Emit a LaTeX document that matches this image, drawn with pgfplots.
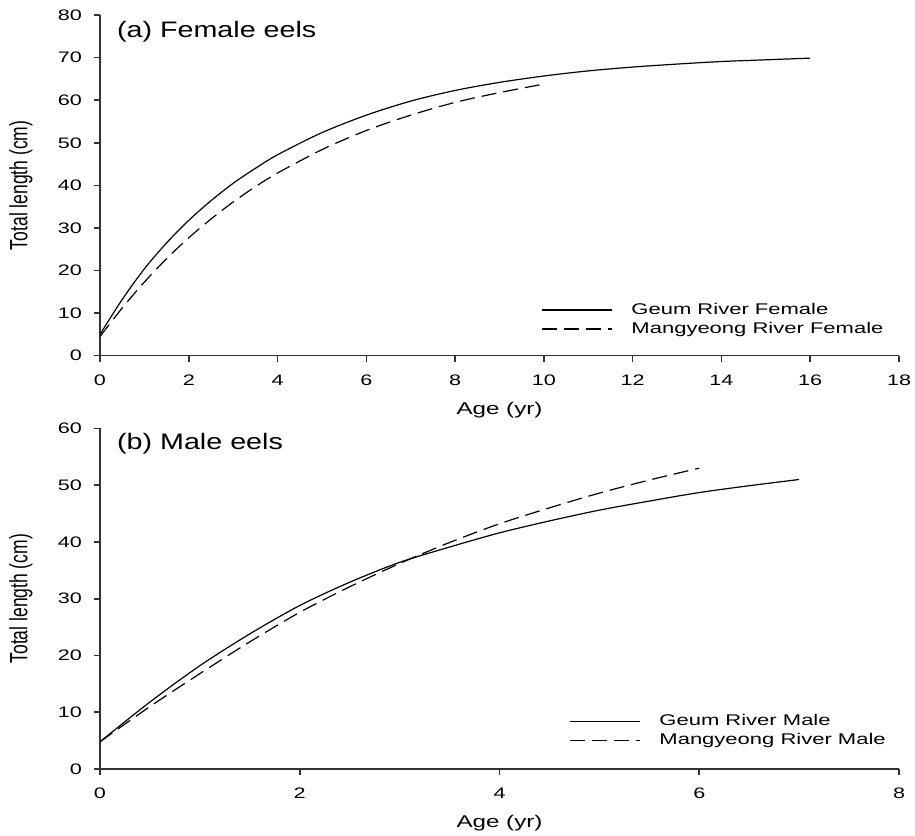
\documentclass[border=0pt]{standalone}
\usepackage{pgfplots}
\pgfplotsset{compat=1.18}
\usepackage{fontspec}
\setmainfont{Liberation Sans}[FakeStretch=1.42]
\newfontfamily\ylabfont{Liberation Sans}[FakeStretch=0.70]
\newfontfamily\titlefont{Liberation Sans}[FakeStretch=1.28]

\pgfplotsset{
 eelaxis/.style={
  scale only axis, width=399.5pt, height=170.3pt,
  axis x line*=bottom, axis y line*=left,
  axis line style={black!80, line width=0.8pt},
  tick align=outside, major tick length=3pt,
  tick style={black!80, line width=0.8pt},
  /pgf/number format/assume math mode=true,
  ticklabel style={font=\fontsize{7.6}{8.5}\selectfont},
  yticklabel style={anchor=east, xshift=-2.5pt},
  xticklabel style={yshift=-3pt},
  xlabel style={at={(axis description cs:0.5,-0.172)}, anchor=base, font=\fontsize{8.5}{10}\selectfont},
  ylabel style={at={(axis description cs:-0.099,0.5)}, anchor=center, font=\ylabfont\fontsize{12.5}{14}\selectfont},
  legend cell align=left,
  legend image code/.code={\draw[##1] (0pt,0pt) -- (35pt,0pt);},
  legend style={draw=none, fill=none, anchor=north west, font=\fontsize{7.75}{9}\selectfont,
    nodes={inner sep=1.2pt}, row sep=0pt, /tikz/every odd column/.append style={column sep=8pt}},
  xlabel={Age (yr)}, ylabel={Total length (cm)},
 },
 geum/.style={black, line width=0.6pt, smooth},
 mang/.style={black, line width=0.6pt, smooth, dash pattern=on 7.5pt off 3.5pt},
}

\begin{document}
\begin{tikzpicture}
\useasboundingbox (0,0) rectangle (457.5pt,417.5pt);
\begin{axis}[eelaxis, at={(50pt,239.65pt)}, anchor=south west,
  xmin=0, xmax=18, ymin=0, ymax=80,
  xtick={0,2,...,18}, ytick={0,10,...,80},
  legend style={at={(rel axis cs:0.545,0.175)}}]
\addplot[geum] coordinates {
(0,5.0) (0.5,13.2) (1,20.4) (1.5,26.5) (2,31.8) (2.5,36.4) (3,40.5) (3.5,44.0)
(4,47.2) (5,52.4) (6,56.5) (7,59.8) (8,62.3) (9,64.2) (10,65.7) (11,66.9)
(12,67.8) (13,68.5) (14,69.1) (15,69.5) (16,69.9)};
\addlegendentry{Geum River Female}
\addplot[mang] coordinates {
(0,4.5) (0.5,11.2) (1,17.3) (1.5,22.8) (2,27.7) (2.5,32.1) (3,36.1) (3.5,39.7)
(4,42.9) (5,48.4) (6,52.9) (7,56.5) (8,59.5) (9,61.8) (10,63.8)};
\addlegendentry{Mangyeong River Female}
\node[anchor=base west, inner sep=0pt, font=\titlefont\fontsize{11.2}{13}\selectfont] at (rel axis cs:0.021,0.935) {(a) Female eels};
\end{axis}

\begin{axis}[eelaxis, at={(50pt,33pt)}, anchor=south west,
  xmin=0, xmax=8, ymin=0, ymax=60,
  xtick={0,2,...,8}, ytick={0,10,...,60},
  legend style={at={(rel axis cs:0.58,0.18)}}]
\addplot[geum] coordinates {
(0,4.8) (0.5,11.8) (1,18.2) (1.5,23.8) (2,28.8) (2.5,32.9) (3,36.4) (3.5,39.1)
(4,41.6) (4.5,43.7) (5,45.6) (5.5,47.2) (6,48.7) (6.5,49.9) (7,51.0)};
\addlegendentry{Geum River Male}
\addplot[mang] coordinates {
(0,4.8) (0.5,11.0) (1,16.8) (1.5,22.4) (2,27.6) (2.5,32.1) (3,36.2) (3.5,39.9)
(4,43.2) (4.5,46.0) (5,48.6) (5.5,50.9) (6,53.0)};
\addlegendentry{Mangyeong River Male}
\node[anchor=base west, inner sep=0pt, font=\titlefont\fontsize{11.2}{13}\selectfont] at (rel axis cs:0.021,0.938) {(b) Male eels};
\end{axis}
\end{tikzpicture}
\end{document}
